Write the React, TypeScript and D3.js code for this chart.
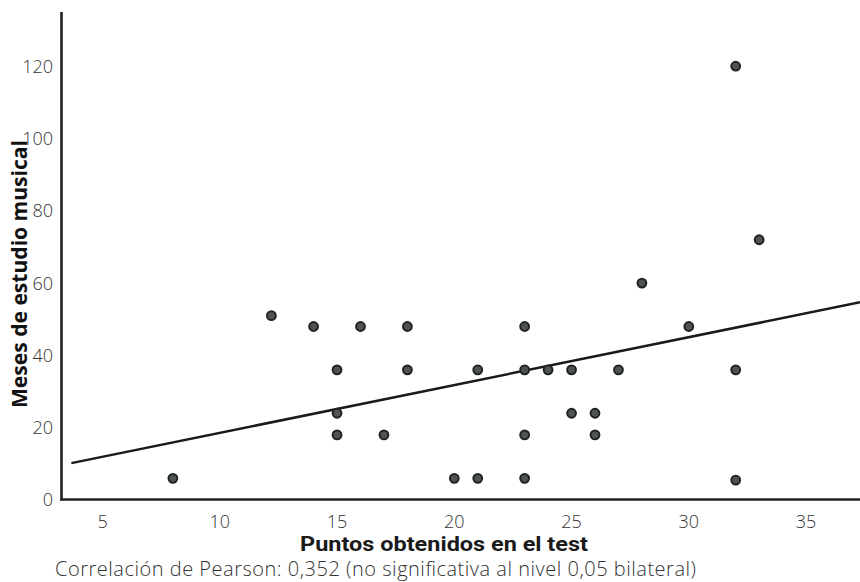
import React from "react";
import * as d3 from "d3";

const pointsX = [8, 12.2, 14, 16, 18, 15, 18, 15, 15, 17, 23, 21, 23, 24, 25, 27, 25, 26, 23, 26, 20, 21, 23, 28, 30, 32, 32, 32, 33];
const pointsY = [6, 51, 48, 48, 48, 36, 36, 24, 18, 18, 48, 36, 36, 36, 36, 36, 24, 24, 18, 18, 6, 6, 6, 60, 48, 36, 5.5, 120, 72];
const xTicks = [5, 10, 15, 20, 25, 30, 35];
const yTicks = [0, 20, 40, 60, 80, 100, 120];
const regIntercept = 5.34;
const regSlope = 1.323;
const regRange = [3.67, 37.3];
const xTitle = "Puntos obtenidos en el test";
const yTitle = "Meses de estudio musical";
const footnote = "Correlación de Pearson: 0,352 (no significativa al nivel 0,05 bilateral)";

const W = 860;
const H = 582;

export default function App() {
  const x = d3.scaleLinear().domain([3.25, 37.3]).range([61.5, 860]);
  const y = d3.scaleLinear().domain([0, 135]).range([500, 12]);
  const data = pointsX.map((v, i) => ({ x: v, y: pointsY[i] }));
  const line = d3
    .line<number>()
    .x((d) => x(d))
    .y((d) => y(regIntercept + regSlope * d));
  const axisColor = "#222";
  return (
    <svg
      width={W}
      height={H}
      style={{ position: "absolute", left: 0, top: 0, background: "#fff" }}
    >
      <rect width={W} height={H} fill="#fff" />
      <line x1={x.range()[0]} x2={x.range()[0]} y1={12} y2={500.5} stroke={axisColor} strokeWidth={2.6} />
      <line x1={x.range()[0] - 1.3} x2={W} y1={499.5} y2={499.5} stroke={axisColor} strokeWidth={2.6} />
      {yTicks.map((t) => (
        <text
          key={"y" + t}
          x={53}
          y={y(t)}
          dy="0.36em"
          textAnchor="end"
          fontFamily="'Open Sans', sans-serif"
          fontWeight={300}
          fontSize={18}
          fill="#333"
        >
          {t}
        </text>
      ))}
      {xTicks.map((t) => (
        <text
          key={"x" + t}
          x={x(t)}
          y={528}
          textAnchor="middle"
          fontFamily="'Open Sans', sans-serif"
          fontWeight={300}
          fontSize={18}
          fill="#333"
        >
          {t}
        </text>
      ))}
      <path d={line(regRange) || ""} fill="none" stroke="#1a1a1a" strokeWidth={2.5} />
      {data.map((d, i) => (
        <circle
          key={i}
          cx={x(d.x)}
          cy={y(d.y)}
          r={4.4}
          fill="#4e5454"
          stroke="#222"
          strokeWidth={2}
        />
      ))}
      <text
        x={444}
        y={551}
        textAnchor="middle"
        fontFamily="Roboto, sans-serif"
        fontWeight={700}
        fontSize={21}
        textLength={288}
        lengthAdjust="spacingAndGlyphs"
        fill="#1a1a1a"
      >
        {xTitle}
      </text>
      <text
        transform={`translate(27, 274) rotate(-90)`}
        textAnchor="middle"
        fontFamily="'Open Sans', sans-serif"
        fontWeight={700}
        fontSize={20.5}
        textLength={268}
        lengthAdjust="spacingAndGlyphs"
        fill="#111"
      >
        {yTitle}
      </text>
      <text
        x={55}
        y={576}
        textAnchor="start"
        fontFamily="'Open Sans', sans-serif"
        fontWeight={300}
        fontSize={20}
        textLength={641}
        fill="#333"
      >
        {footnote}
      </text>
    </svg>
  );
}
